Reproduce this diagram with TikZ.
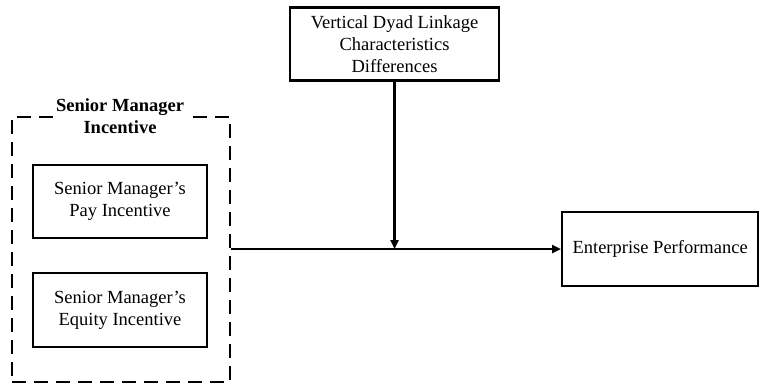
\documentclass[tikz,border=0pt]{standalone}
\usepackage{fontspec}
\setmainfont{Liberation Serif}
\usetikzlibrary{arrows.meta}
\begin{document}
\begin{tikzpicture}[x=1pt,y=-1pt,
  box/.style={draw,line width=2.3pt,align=center,inner sep=0pt,font=\fontsize{18.5}{22}\selectfont},
  grp/.style={draw,line width=2.3pt,dash pattern=on 14pt off 8pt},
  arr/.style={line width=2.3pt,-{Triangle[length=9pt,width=8pt]}}]
\useasboundingbox (0,0) rectangle (759,383);
\node[grp,minimum width=218pt,minimum height=265pt,anchor=north west] (grp) at (11,116) {};
\node[fill=white,align=center,inner sep=2pt,font=\fontsize{18.5}{22}\selectfont\bfseries] (title) at (120,116.5) {Senior Manager\\Incentive};
\node[box,minimum width=174pt,minimum height=73pt] (pay) at (120,201.5) {Senior Manager’s\\Pay Incentive};
\node[box,minimum width=174pt,minimum height=74pt] (eq) at (120,310) {Senior Manager’s\\Equity Incentive};
\node[box,minimum width=209pt,minimum height=73pt] (vd) at (394.5,44) {Vertical Dyad Linkage\\Characteristics\\Differences};
\node[box,minimum width=196pt,minimum height=74pt,anchor=west] (ep) at (561,249) {Enterprise Performance};
\coordinate (j) at (vd.south |- ep.west);
\draw[arr] (grp.east |- ep.west) -- (ep.west);
\draw[arr] (vd.south) -- (j);
\end{tikzpicture}
\end{document}
